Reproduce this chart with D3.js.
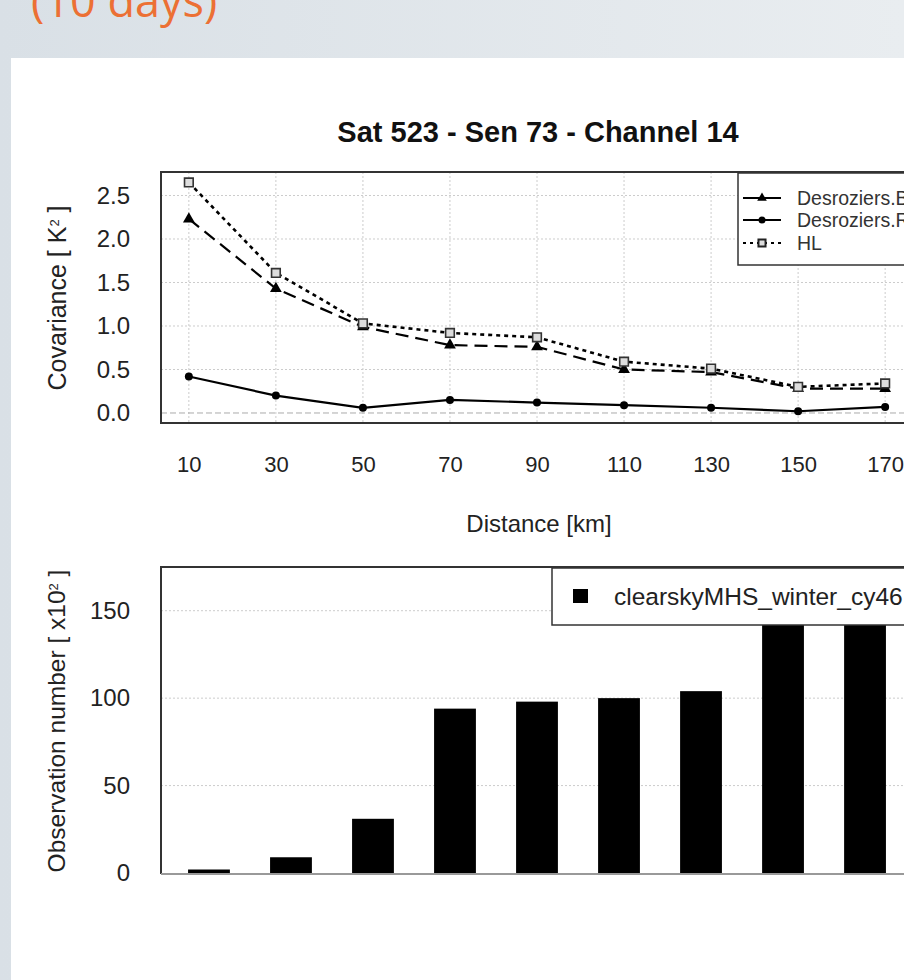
<!DOCTYPE html>
<html>
<head>
<meta charset="utf-8">
<script src="https://cdn.jsdelivr.net/npm/d3@7"></script>
<style>
  body { margin: 0; background: #e2e7eb; }
  svg text { font-family: "Liberation Sans", Arial, sans-serif; }
</style>
</head>
<body>
<div id="chart"></div>
<script>
// distances (km) and values
const distances = [10, 30, 50, 70, 90, 110, 130, 150, 170];
const desrozB   = [2.23, 1.43, 0.99, 0.78, 0.76, 0.50, 0.47, 0.28, 0.28];
const desrozR   = [0.42, 0.20, 0.06, 0.15, 0.12, 0.09, 0.06, 0.02, 0.07];
const hlCov     = [2.65, 1.61, 1.03, 0.92, 0.87, 0.59, 0.51, 0.30, 0.34];
const obsCount  = [2, 9, 31, 94, 98, 100, 104, 160, 158];   // x10^2
const covTicks  = [0, 0.5, 1.0, 1.5, 2.0, 2.5];
const obsTicks  = [0, 50, 100, 150];
const seriesNames = ["Desroziers.B", "Desroziers.R", "HL"];
const barName = "clearskyMHS_winter_cy46";

const W = 904, H = 980;

const svg = d3.select("#chart").append("svg")
    .attr("width", W)
    .attr("height", H);

// slide background
const grad = svg.append("defs").append("linearGradient")
    .attr("id", "bg").attr("x1", "0").attr("x2", "1").attr("y1", "0").attr("y2", "0");
grad.append("stop").attr("offset", "0").attr("stop-color", "#d9e0e6");
grad.append("stop").attr("offset", "1").attr("stop-color", "#e9edf0");
svg.append("rect").attr("width", W).attr("height", H).attr("fill", "url(#bg)");
svg.append("rect").attr("x", 11).attr("y", 58).attr("width", W - 11).attr("height", H - 58).attr("fill", "#fff");

svg.append("text")
   .attr("x", 31).attr("y", 17)
   .style("font-family", "'Open Sans', sans-serif")
   .style("font-size", "45px")
   .style("fill", "#ec7034")
   .text("(10 days)");

// title
svg.append("text")
   .attr("x", 538).attr("y", 142)
   .attr("text-anchor", "middle")
   .style("font-size", "29px")
   .style("font-weight", "bold")
   .style("fill", "#111")
   .text("Sat 523 - Sen 73 - Channel 14");

// ---------- top panel: covariance ----------
const box1 = { left: 161, right: 913, top: 172, bottom: 423 };
const x = d3.scaleLinear().domain([3.6, 176.4]).range([box1.left, box1.right]);
const y = d3.scaleLinear().domain([-0.115, 2.77]).range([box1.bottom, box1.top]);

const g1 = svg.append("g");

// grid
g1.selectAll(".vgrid").data(distances).enter().append("line")
  .attr("x1", d => x(d)).attr("x2", d => x(d))
  .attr("y1", box1.top).attr("y2", box1.bottom)
  .attr("stroke", "#ccc").attr("stroke-dasharray", "2,2");
g1.selectAll(".hgrid").data(covTicks.filter(d => d > 0)).enter().append("line")
  .attr("x1", box1.left).attr("x2", box1.right)
  .attr("y1", d => y(d)).attr("y2", d => y(d))
  .attr("stroke", "#ccc").attr("stroke-dasharray", "2,2");
g1.append("line")
  .attr("x1", box1.left).attr("x2", box1.right)
  .attr("y1", y(0)).attr("y2", y(0))
  .attr("stroke", "#aaa").attr("stroke-dasharray", "6,3");

// axes
g1.append("g")
  .attr("transform", `translate(${box1.left},0)`)
  .call(d3.axisLeft(y).tickValues(covTicks).tickSize(0).tickPadding(31).tickFormat(d3.format(".1f")))
  .call(a => a.select(".domain").remove())
  .selectAll("text").style("font-size", "24px").style("fill", "#222");

g1.append("g")
  .attr("transform", `translate(0,${box1.bottom})`)
  .call(d3.axisBottom(x).tickValues(distances).tickSize(0).tickPadding(33))
  .call(a => a.select(".domain").remove())
  .selectAll("text").style("font-size", "22px").style("fill", "#222");

svg.append("text")
   .attr("x", 539).attr("y", 532)
   .attr("text-anchor", "middle")
   .style("font-size", "24px").style("fill", "#222")
   .text("Distance [km]");

const covLabel = svg.append("text")
   .attr("transform", "translate(57,298) rotate(-90)")
   .attr("dy", "0.35em")
   .attr("text-anchor", "middle")
   .style("font-size", "25px").style("fill", "#222");
covLabel.append("tspan").text("Covariance [ K");
covLabel.append("tspan").attr("baseline-shift", "super").style("font-size", "13px").text("2");
covLabel.append("tspan").text(" ]");

// lines
const line = vals => d3.line().x((d, i) => x(distances[i])).y(d => y(d))(vals);

g1.append("path").attr("d", line(desrozR))
  .attr("fill", "none").attr("stroke", "#000").attr("stroke-width", 2.2);
g1.append("path").attr("d", line(desrozB))
  .attr("fill", "none").attr("stroke", "#000").attr("stroke-width", 2.2)
  .attr("stroke-dasharray", "13,7");
g1.append("path").attr("d", line(hlCov))
  .attr("fill", "none").attr("stroke", "#000").attr("stroke-width", 2.6)
  .attr("stroke-dasharray", "4,4");

const tri = d3.symbol().type(d3.symbolTriangle).size(60);
const sq = d3.symbol().type(d3.symbolSquare).size(75);

g1.selectAll(".ptR").data(desrozR).enter().append("circle")
  .attr("cx", (d, i) => x(distances[i])).attr("cy", d => y(d))
  .attr("r", 4).attr("fill", "#000");
g1.selectAll(".ptB").data(desrozB).enter().append("path")
  .attr("d", tri)
  .attr("transform", (d, i) => `translate(${x(distances[i])},${y(d)})`)
  .attr("fill", "#000");
g1.selectAll(".ptH").data(hlCov).enter().append("path")
  .attr("d", sq)
  .attr("transform", (d, i) => `translate(${x(distances[i])},${y(d)})`)
  .attr("fill", "#ddd").attr("stroke", "#333").attr("stroke-width", 1.6);

// frame
g1.append("rect")
  .attr("x", box1.left).attr("y", box1.top)
  .attr("width", box1.right - box1.left).attr("height", box1.bottom - box1.top)
  .attr("fill", "none").attr("stroke", "#333").attr("stroke-width", 2);

// legend
const leg1 = g1.append("g").attr("transform", "translate(738,173)");
leg1.append("rect").attr("width", 200).attr("height", 92)
  .attr("fill", "#fff").attr("stroke", "#333").attr("stroke-width", 1.5);
const rowY = [25, 47, 70];
const dashes = [null, null, "3,4"];
seriesNames.forEach((name, i) => {
    leg1.append("line")
        .attr("x1", 5).attr("x2", 43).attr("y1", rowY[i]).attr("y2", rowY[i])
        .attr("stroke", "#000").attr("stroke-width", 2)
        .attr("stroke-dasharray", dashes[i]);
    const mark = leg1.append("g").attr("transform", `translate(24,${rowY[i]})`);
    if (i === 0) mark.append("path").attr("d", d3.symbol().type(d3.symbolTriangle).size(40)).attr("fill", "#000");
    if (i === 1) mark.append("circle").attr("r", 3.5).attr("fill", "#000");
    if (i === 2) mark.append("path").attr("d", d3.symbol().type(d3.symbolSquare).size(50))
                     .attr("fill", "#ddd").attr("stroke", "#222").attr("stroke-width", 2);
    leg1.append("text")
        .attr("x", 59).attr("y", rowY[i]).attr("dy", "0.35em")
        .style("font-size", "19.5px").style("fill", "#333")
        .text(name);
});

// ---------- bottom panel: observation numbers ----------
const box2 = { left: 161, right: 916, top: 567, bottom: 874 };
const xb = d3.scaleBand().domain(distances).range([161, 913]).paddingInner(0.49).paddingOuter(0.33);
const yb = d3.scaleLinear().domain([0, 175]).range([box2.bottom - 1, box2.top]);

const g2 = svg.append("g");

g2.selectAll(".hgrid").data(obsTicks.filter(d => d > 0)).enter().append("line")
  .attr("x1", box2.left).attr("x2", box2.right)
  .attr("y1", d => yb(d)).attr("y2", d => yb(d))
  .attr("stroke", "#ccc").attr("stroke-dasharray", "2,2");

g2.append("g")
  .attr("transform", `translate(${box2.left},0)`)
  .call(d3.axisLeft(yb).tickValues(obsTicks).tickSize(0).tickPadding(31))
  .call(a => a.select(".domain").remove())
  .selectAll("text").style("font-size", "24px").style("fill", "#222");

g2.selectAll(".bar").data(obsCount).enter().append("rect")
  .attr("x", (d, i) => xb(distances[i]))
  .attr("y", d => yb(d))
  .attr("width", xb.bandwidth())
  .attr("height", d => yb(0) - yb(d))
  .attr("fill", "#000");

g2.append("path")
  .attr("d", `M${box2.right},${box2.top}H${box2.left}V${box2.bottom}`)
  .attr("fill", "none").attr("stroke", "#333").attr("stroke-width", 2);
g2.append("line")
  .attr("x1", box2.left).attr("x2", box2.right).attr("y1", box2.bottom).attr("y2", box2.bottom)
  .attr("stroke", "#999").attr("stroke-width", 2);

const obsLabel = svg.append("text")
   .attr("transform", "translate(56,721) rotate(-90)")
   .attr("dy", "0.35em")
   .attr("text-anchor", "middle")
   .style("font-size", "24.5px").style("fill", "#222");
obsLabel.append("tspan").text("Observation number [ x10");
obsLabel.append("tspan").attr("baseline-shift", "super").style("font-size", "13px").text("2");
obsLabel.append("tspan").text(" ]");

// legend
const leg2 = g2.append("g").attr("transform", "translate(552,568)");
leg2.append("rect").attr("width", 400).attr("height", 57)
  .attr("fill", "#fff").attr("stroke", "#333").attr("stroke-width", 1.5);
leg2.append("rect").attr("x", 21).attr("y", 21).attr("width", 15).attr("height", 14).attr("fill", "#000");
leg2.append("text")
    .attr("x", 62).attr("y", 28).attr("dy", "0.35em")
    .style("font-size", "24.5px").style("fill", "#222")
    .text(barName);
</script>
</body>
</html>
